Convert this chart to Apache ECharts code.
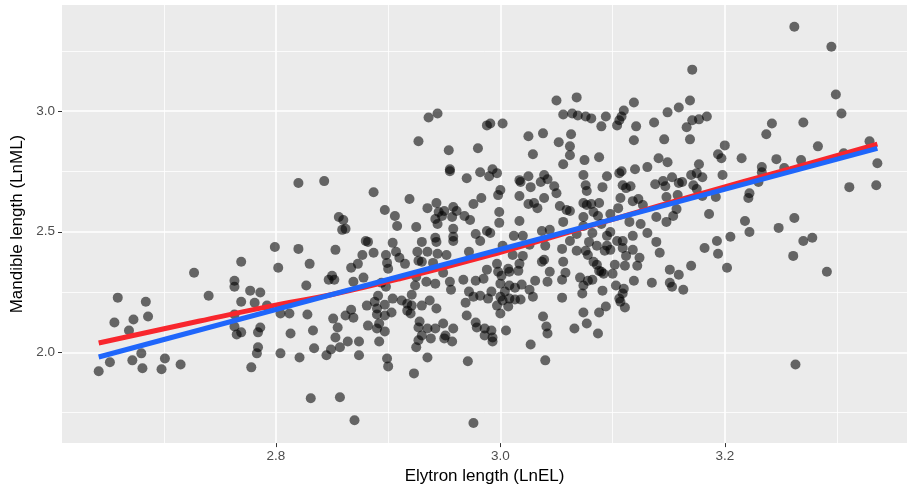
<!DOCTYPE html>
<html>
<head>
<meta charset="utf-8">
<style>
  html, body { margin: 0; padding: 0; background: #fff; }
  #chart { width: 908px; height: 490px; }
</style>
<script src="https://cdn.jsdelivr.net/npm/echarts@6/dist/echarts.min.js"></script>
</head>
<body>
<div id="chart"></div>
<script>
// [LnEL, LnML] per specimen
const points = [
  [2.642,1.922],[2.652,1.959],[2.656,2.124],[2.659,2.227],[2.673,2.136],[2.669,2.091],[2.686,2.149],[2.684,2.210],
  [2.672,1.967],[2.680,1.996],[2.681,1.934],[2.698,1.930],[2.701,1.975],[2.715,1.950],[2.740,2.235],[2.763,2.157],
  [2.769,2.210],[2.781,2.206],[2.792,2.194],[2.763,2.107],[2.765,2.074],[2.769,2.083],[2.786,2.103],[2.784,2.083],
  [2.784,2.021],[2.783,1.996],[2.778,1.938],[2.804,1.996],[2.804,2.161],[2.727,2.330],[2.769,2.376],[2.763,2.297],
  [2.763,2.272],[2.777,2.256],[2.786,2.248],[2.799,2.437],[2.802,2.351],
  [2.820,2.702],[2.843,2.710],[2.887,2.664],[2.919,2.636],[2.927,2.875],[2.897,2.590],[2.906,2.565],[2.908,2.524],
  [2.925,2.520],[2.856,2.561],[2.860,2.549],[2.859,2.508],[2.862,2.512],[2.880,2.462],[2.882,2.458],[2.820,2.429],
  [2.853,2.425],[2.877,2.404],[2.887,2.413],[2.898,2.404],[2.904,2.454],[2.907,2.417],[2.910,2.392],[2.915,2.367],
  [2.899,2.371],[2.900,2.347],[2.926,2.417],[2.927,2.380],[2.830,2.367],[2.867,2.351],[2.873,2.367],[2.850,2.318],
  [2.847,2.301],[2.852,2.301],[2.827,2.277],[2.869,2.293],[2.878,2.310],[2.894,2.289],[2.898,2.272],[2.925,2.314],
  [2.924,2.277],[2.891,2.235],[2.904,2.223],[2.921,2.239],
  [2.812,2.161],[2.828,2.157],[2.813,2.078],[2.833,2.091],[2.821,1.979],[2.834,2.017],[2.851,2.140],[2.855,2.103],
  [2.853,2.062],[2.862,2.153],[2.867,2.177],[2.869,2.144],[2.849,2.012],[2.845,1.988],[2.857,2.021],[2.864,2.045],
  [2.874,2.045],[2.874,1.988],[2.881,2.194],[2.882,2.111],[2.888,2.210],[2.890,2.182],[2.890,2.157],[2.892,2.120],
  [2.890,2.099],[2.897,2.198],[2.897,2.153],[2.897,2.087],[2.892,2.045],[2.903,2.165],[2.899,1.975],[2.900,1.942],
  [2.912,2.215],[2.917,2.202],[2.921,2.194],[2.917,2.173],[2.920,2.161],[2.927,2.103],[2.927,2.050],[2.925,2.021],
  [2.923,1.913],[2.831,1.810],[2.857,1.814],[2.870,1.719],
  [2.936,2.974],[2.944,2.990],[2.954,2.838],[2.980,2.846],[2.988,2.941],[2.991,2.949],[3.002,2.949],[3.025,2.896],
  [3.038,2.908],[3.029,2.821],[3.052,2.871],[3.050,3.044],[2.955,2.759],[2.955,2.751],[2.970,2.722],[2.982,2.747],
  [2.990,2.730],[2.993,2.759],[2.997,2.743],[2.998,2.652],[3.000,2.673],[2.983,2.640],[2.976,2.615],[2.935,2.598],
  [2.943,2.619],[2.945,2.582],[2.950,2.586],[2.948,2.565],[2.942,2.553],[2.944,2.532],[2.958,2.603],[2.961,2.586],
  [2.957,2.561],[2.968,2.565],[2.973,2.549],[2.958,2.512],[2.999,2.582],[2.999,2.537],[3.017,2.714],[3.018,2.706],
  [3.025,2.730],[3.027,2.685],[3.017,2.648],[3.036,2.706],[3.039,2.735],[3.042,2.718],[3.048,2.689],[3.050,2.660],
  [3.039,2.640],[3.025,2.615],[3.030,2.619],[3.033,2.598],[3.017,2.545],[2.978,2.491],[2.988,2.503],[2.991,2.495],
  [3.012,2.483],[3.020,2.483],[2.942,2.475],[2.958,2.479],[3.037,2.503],[3.044,2.508],
  [2.930,2.458],[2.943,2.458],[2.958,2.462],[2.982,2.462],[2.935,2.417],[2.944,2.409],[2.952,2.404],[2.972,2.417],
  [2.930,2.376],[2.940,2.371],[2.949,2.330],[2.934,2.293],[2.942,2.285],[2.955,2.293],[2.956,2.260],[2.967,2.301],
  [2.978,2.297],[2.985,2.305],[2.988,2.343],[2.997,2.367],[2.998,2.334],[3.001,2.318],[3.007,2.347],[3.008,2.334],
  [3.016,2.338],[3.017,2.367],[3.020,2.400],[3.011,2.404],[3.002,2.442],[3.026,2.446],[3.040,2.442],[3.037,2.376],
  [3.039,2.384],[3.044,2.334],[3.042,2.293],[3.031,2.297],[3.026,2.260],[3.019,2.281],[3.013,2.268],[3.008,2.277],
  [3.004,2.252],[3.000,2.285],[2.972,2.252],[2.976,2.231],[2.969,2.206],[2.982,2.235],[2.989,2.223],[2.992,2.252],
  [3.000,2.231],[3.002,2.215],[3.008,2.223],[3.013,2.219],[3.018,2.219],[3.029,2.231],[2.997,2.194],[3.007,2.190],
  [3.000,2.161],[2.937,2.215],[2.943,2.182],[2.930,2.194],[2.970,2.153],[2.978,2.124],[2.979,2.103],[2.986,2.099],
  [2.992,2.091],[3.005,2.091],[2.986,2.070],[2.993,2.062],[2.949,2.120],[2.942,2.099],[2.935,2.099],[2.928,2.128],
  [2.958,2.099],[2.951,2.070],[3.038,2.149],[3.041,2.107],[3.042,2.078],[2.930,2.070],
  [2.938,2.058],[2.950,2.058],[2.957,2.045],[2.993,2.045],[3.027,2.033],[2.935,1.979],[2.971,1.963],[3.040,1.967],
  [2.976,1.707],
  [3.171,3.172],[3.068,3.057],[3.119,3.036],[3.169,3.044],[3.159,3.015],[3.149,2.995],[3.056,2.986],[3.064,2.990],
  [3.069,2.982],[3.076,2.978],[3.081,2.970],[3.094,2.978],[3.090,2.937],[3.110,3.003],[3.108,2.978],[3.106,2.962],
  [3.104,2.941],[3.121,2.937],[3.137,2.953],[3.171,2.962],[3.177,2.966],[3.166,2.933],[3.063,2.904],[3.062,2.854],
  [3.062,2.817],[3.056,2.780],[3.075,2.797],[3.088,2.809],[3.119,2.879],[3.146,2.883],[3.169,2.883],[3.141,2.805],
  [3.149,2.788],[3.131,2.768],[3.120,2.759],[3.108,2.751],[3.106,2.743],[3.095,2.730],[3.074,2.735],[3.076,2.693],
  [3.077,2.669],[3.091,2.685],[3.109,2.693],[3.112,2.681],[3.116,2.689],[3.138,2.697],[3.145,2.710],[3.147,2.689],
  [3.153,2.726],[3.159,2.702],[3.162,2.706],[3.170,2.735],[3.172,2.693],[3.177,2.780],[3.175,2.743],[3.148,2.644],
  [3.158,2.652],[3.107,2.640],[3.118,2.627],[3.123,2.636],[3.127,2.611],[3.053,2.607],[3.059,2.590],[3.062,2.586],
  [3.074,2.619],[3.077,2.611],[3.081,2.615],[3.088,2.619],[3.105,2.598],[3.083,2.582],[3.087,2.565],[3.098,2.574],
  [3.074,2.561],[3.056,2.541],[3.074,2.524],[3.090,2.532],[3.115,2.541],[3.125,2.532],[3.139,2.561],[3.148,2.541],
  [3.154,2.565],[3.157,2.594],[3.175,2.677],[3.098,2.499],[3.082,2.495],[3.095,2.483],[3.131,2.495],[3.118,2.483],
  [3.068,2.491],
  [3.055,2.429],[3.062,2.462],[3.068,2.421],[3.076,2.421],[3.079,2.458],[3.086,2.442],[3.095,2.442],[3.093,2.421],
  [3.098,2.425],[3.104,2.462],[3.109,2.462],[3.109,2.433],[3.118,2.425],[3.112,2.400],[3.124,2.392],[3.139,2.458],
  [3.142,2.413],[3.078,2.404],[3.056,2.376],[3.083,2.376],[3.086,2.363],[3.088,2.338],[3.090,2.334],[3.092,2.326],
  [3.100,2.326],[3.102,2.363],[3.111,2.359],[3.122,2.359],[3.058,2.330],[3.071,2.310],[3.078,2.297],[3.082,2.301],
  [3.055,2.301],[3.074,2.277],[3.091,2.256],[3.103,2.277],[3.119,2.297],[3.135,2.289],[3.151,2.343],[3.159,2.322],
  [3.170,2.359],[3.151,2.289],[3.153,2.272],[3.163,2.260],[3.110,2.264],[3.109,2.244],[3.106,2.223],[3.107,2.210],
  [3.111,2.186],[3.094,2.190],[3.088,2.165],[3.073,2.244],[3.055,2.227],[3.074,2.165],[3.077,2.120],[3.066,2.099],
  [3.087,2.078],
  [3.262,3.350],[3.295,3.267],[3.299,3.069],[3.304,2.990],[3.184,2.978],[3.242,2.949],[3.270,2.953],[3.237,2.904],
  [3.200,2.858],[3.194,2.821],[3.197,2.805],[3.215,2.805],[3.246,2.801],[3.268,2.797],[3.283,2.854],[3.329,2.875],
  [3.306,2.825],[3.336,2.784],[3.180,2.726],[3.198,2.735],[3.233,2.768],[3.233,2.747],[3.253,2.764],[3.230,2.706],
  [3.222,2.660],[3.221,2.640],[3.311,2.685],[3.335,2.693],[3.192,2.644],[3.180,2.648],[3.186,2.574],[3.218,2.545],
  [3.222,2.499],[3.205,2.479],[3.193,2.462],[3.182,2.433],[3.194,2.409],[3.202,2.351],[3.248,2.516],[3.262,2.557],
  [3.270,2.462],[3.278,2.475],[3.261,2.400],[3.291,2.334],[3.263,1.950]
];

// red: curved smooth, read at a few x positions
const redFit = [
  [2.642, 2.039], [2.732, 2.130], [2.804, 2.200], [2.848, 2.238], [2.911, 2.306], [3.000, 2.415],
  [3.053, 2.487], [3.107, 2.561], [3.178, 2.657], [3.258, 2.761], [3.336, 2.863]
];
// blue: straight fit, end points
const blueFit = [[2.642, 1.981], [3.336, 2.846]];

const xTicks = [2.8, 3.0, 3.2];
const yTicks = [2.0, 2.5, 3.0];
const xRange = [2.6093, 3.3624];
const yRange = [1.624, 3.440];

const chart = echarts.init(document.getElementById('chart'));

const font = 'Liberation Sans, Arial, sans-serif';
const tickLabel = { color: '#4d4d4d', fontSize: 13.5, fontFamily: font };

chart.setOption({
  animation: false,
  grid: {
    left: 62, right: 1, top: 5, bottom: 45,
    show: true, backgroundColor: '#ebebeb', borderWidth: 0
  },
  xAxis: {
    type: 'value',
    min: xRange[0], max: xRange[1], splitNumber: 5,
    name: 'Elytron length (LnEL)', nameLocation: 'middle', nameGap: 24,
    nameTextStyle: { color: '#000', fontSize: 17, fontFamily: font },
    axisLine: { show: false, onZero: false },
    axisTick: { length: 4, lineStyle: { color: '#333', width: 1 }, customValues: xTicks },
    axisLabel: Object.assign({ margin: 6, customValues: xTicks, formatter: v => v.toFixed(1) }, tickLabel),
    splitLine: { lineStyle: { color: '#fff', width: 1.6 } },
    minorTick: { show: false, splitNumber: 2 },
    minorSplitLine: { show: true, lineStyle: { color: '#fff', width: 0.8 } }
  },
  yAxis: {
    type: 'value',
    min: yRange[0], max: yRange[1], splitNumber: 4,
    name: 'Mandible length (LnML)', nameLocation: 'middle', nameGap: 36,
    nameTextStyle: { color: '#000', fontSize: 17, fontFamily: font },
    axisLine: { show: false, onZero: false },
    axisTick: { length: 4, lineStyle: { color: '#333', width: 1 }, customValues: yTicks },
    axisLabel: Object.assign({ margin: 7, customValues: yTicks, formatter: v => v.toFixed(1) }, tickLabel),
    splitLine: { lineStyle: { color: '#fff', width: 1.6 } },
    minorTick: { show: false, splitNumber: 2 },
    minorSplitLine: { show: true, lineStyle: { color: '#fff', width: 0.8 } }
  },
  series: [
    {
      type: 'scatter',
      data: points,
      symbolSize: 10,
      itemStyle: { color: 'rgba(0,0,0,0.72)' },
      silent: true,
      z: 2
    },
    {
      type: 'line',
      data: redFit,
      symbol: 'none',
      smooth: true,
      lineStyle: { color: '#f8262d', width: 5 },
      z: 3
    },
    {
      type: 'line',
      data: blueFit,
      symbol: 'none',
      lineStyle: { color: '#1f66fb', width: 5 },
      z: 4
    }
  ]
});
</script>
</body>
</html>
